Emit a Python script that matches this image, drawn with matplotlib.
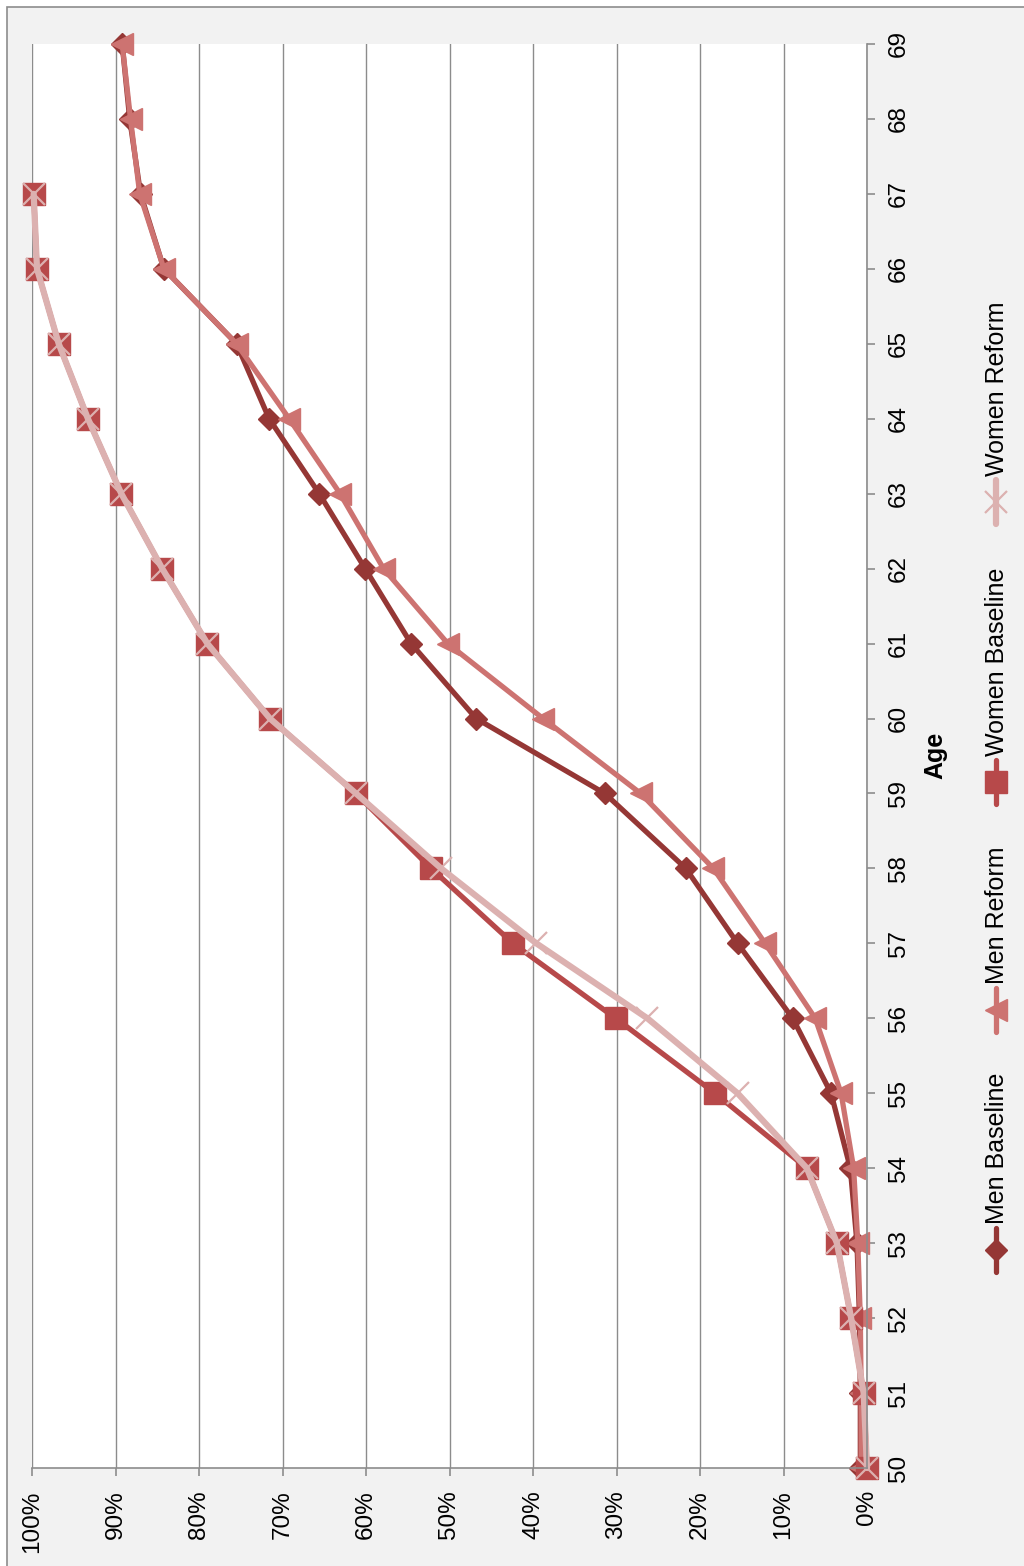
import matplotlib
matplotlib.use("Agg")
import matplotlib.pyplot as plt
from matplotlib.lines import Line2D
from matplotlib.patches import Rectangle

plt.rcParams['font.family'] = ['Liberation Sans', 'DejaVu Sans']

# Share of each cohort that has left work, by age (percent)
ages = list(range(50, 70))
men_baseline = [0.8, 0.8, 0.9, 1.2, 2.0, 4.3, 8.9, 15.5, 21.7, 31.4,
                46.8, 54.6, 60.1, 65.6, 71.6, 75.5, 84.2, 87.0, 88.3, 89.2]
men_reform = [0.7, 0.7, 0.8, 1.1, 1.6, 3.1, 6.2, 12.2, 18.4, 27.1,
              38.8, 50.2, 57.9, 63.1, 69.2, 75.5, 84.2, 87.1, 88.2, 89.2]
women_ages = list(range(50, 68))
women_baseline = [0.0, 0.4, 1.9, 3.6, 7.2, 18.2, 30.1, 42.4, 52.2, 61.2,
                  71.5, 79.0, 84.4, 89.3, 93.3, 96.8, 99.4, 99.8]
women_reform = [0.0, 0.4, 1.9, 3.6, 7.2, 15.5, 26.3, 39.6, 51.0, 61.2,
                71.5, 79.0, 84.4, 89.3, 93.3, 96.8, 99.4, 99.8]

pct_ticks = list(range(0, 101, 10))
pct_labels = [f"{v}%" for v in pct_ticks]
series_names = ["Men Baseline", "Men Reform", "Women Baseline", "Women Reform"]

W, H = 1024, 1566
fig = plt.figure(figsize=(W / 100, H / 100), dpi=100)
fig.patch.set_facecolor('white')

# chart frame (extends past the right and bottom edges)
fig.add_artist(Rectangle((7 / W, -0.05), 1.1, 1 - 7 / H + 0.05,
                         transform=fig.transFigure, facecolor='#f2f2f2',
                         edgecolor='#8c8c8c', lw=1.2, zorder=0))

ax = fig.add_axes([32 / W, 1 - 1468 / H, (867 - 32) / W, (1468 - 44) / H])
ax.set_facecolor('white')
ax.set_xlim(100, 0)
ax.set_ylim(50, 69)

grid_c = '#8c8c8c'
ax.set_xticks(pct_ticks)
ax.set_xticklabels(pct_labels)
ax.set_yticks(ages)
ax.set_yticklabels([str(a) for a in ages])
ax.yaxis.tick_right()
ax.grid(axis='x', color=grid_c, lw=1.0)
ax.set_axisbelow(True)
for s in ('top', 'left'):
    ax.spines[s].set_visible(False)
for s in ('right', 'bottom'):
    ax.spines[s].set_color(grid_c)
    ax.spines[s].set_linewidth(1.2)

ax.tick_params(axis='x', direction='out', length=6, width=1.2, color=grid_c,
               labelsize=17.5, labelrotation=90, pad=10)
ax.tick_params(axis='y', direction='out', length=6, width=1.2, color=grid_c,
               labelsize=17.5, labelrotation=90, pad=9, right=True, left=False)
for lab in ax.get_yticklabels():
    lab.set_va('center')
    lab.set_ha('left')

styles = [
    dict(color='#953735', marker='D', ms=11, lw=3.8),
    dict(color='#cd7371', marker='<', ms=16, lw=3.8),
    dict(color='#b7494a', marker='s', ms=16, lw=3.8),
    dict(color='#dcb1b0', marker='x', ms=16, mew=1.6, lw=4.5),
]
data = [(men_baseline, ages), (men_reform, ages),
        (women_baseline, women_ages), (women_reform, women_ages)]
for (vals, yy), st in zip(data, styles):
    ax.plot(vals, yy, clip_on=False, solid_capstyle='round',
            solid_joinstyle='round', **st)

fig.text(935 / W, 1 - 755 / H, 'Age', rotation=90, fontsize=18,
         fontweight='bold', ha='center', va='center')

# vertical legend on the right
leg_x = 996 / W
leg_marker_y = [1250, 1010, 782, 502]
for name, st, my in zip(series_names, styles, leg_marker_y):
    y0, y1 = 1 - (my + 22) / H, 1 - (my - 22) / H
    fig.add_artist(Line2D([leg_x, leg_x], [y0, y1], transform=fig.transFigure,
                          color=st['color'], lw=st['lw'],
                          solid_capstyle='round'))
    mk = {k: v for k, v in st.items() if k in ('marker', 'ms', 'mew')}
    fig.add_artist(Line2D([leg_x], [1 - my / H], transform=fig.transFigure,
                          color=st['color'], ls='none', **mk))
    fig.text(leg_x + 1 / W, 1 - (my - 26) / H, name, rotation=90, fontsize=18,
             ha='center', va='bottom')

fig.savefig('out.png', dpi=100, facecolor=fig.get_facecolor())
